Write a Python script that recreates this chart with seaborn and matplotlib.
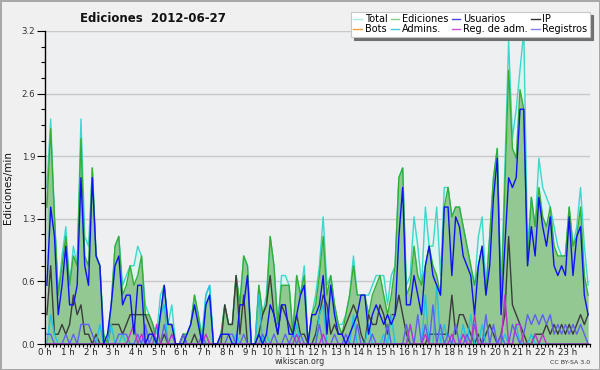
import numpy as np
import pandas as pd
import matplotlib
matplotlib.use("Agg")
import matplotlib.pyplot as plt
import seaborn as sns
from matplotlib.lines import Line2D
from matplotlib.ticker import FixedLocator, FixedFormatter, MultipleLocator

# edits per 10-minute slot (divided by 10 later -> edits/min)
total = [16, 23, 13, 5, 9, 12, 6, 10, 8, 23, 11, 10, 18, 9, 8, 1, 0, 4, 10, 11, 6, 7, 8, 8,
         10, 9, 4, 3, 2, 1, 5, 6, 2, 4, 0, 0, 1, 1, 2, 5, 3, 1, 5, 6, 0, 0, 1,
         4, 2, 2, 7, 4, 9, 8, 0, 0, 6, 3, 5, 11, 8, 2, 7, 7, 6, 1, 7, 5, 8, 0, 3,
         5, 8, 13, 6, 7, 4, 2, 2, 3, 5, 9, 5, 5, 5, 5, 6, 7, 7, 7, 4, 7, 8, 17, 18,
         6, 7, 13, 10, 6, 14, 10, 10, 14, 7, 16, 16, 13, 14, 14, 12, 10, 8, 6, 11, 13, 6, 11, 17,
         20, 5, 18, 31, 21, 24, 28, 32, 10, 15, 12, 19, 16, 15, 14, 12, 10, 9, 9, 14, 10, 12, 16, 10, 6]
ediciones = [14, 22, 13, 5, 8, 11, 6, 9, 8, 21, 9, 8, 18, 9, 8, 1, 0, 4, 10, 11, 5, 6, 8, 6,
             7, 9, 3, 3, 2, 0, 3, 6, 2, 2, 0, 0, 1, 1, 2, 5, 3, 0, 4, 5, 0, 0, 1,
             4, 2, 2, 7, 4, 9, 8, 0, 0, 6, 3, 4, 11, 8, 2, 6, 6, 6, 1, 7, 5, 7, 0, 3,
             4, 7, 11, 5, 7, 4, 2, 1, 3, 5, 8, 5, 5, 5, 3, 5, 6, 7, 5, 3, 5, 8, 17, 18,
             5, 6, 10, 7, 6, 8, 10, 8, 7, 5, 14, 16, 13, 14, 14, 12, 10, 8, 6, 8, 10, 5, 11, 17,
             20, 4, 16, 28, 20, 19, 26, 24, 8, 15, 12, 16, 13, 12, 14, 10, 9, 9, 9, 14, 10, 11, 14, 7, 5]
usuarios = [6, 14, 11, 3, 6, 10, 4, 4, 6, 17, 8, 6, 17, 9, 8, 0, 1, 4, 8, 9, 4, 5, 5, 1,
            6, 6, 0, 1, 1, 0, 3, 6, 2, 2, 0, 0, 0, 1, 2, 4, 2, 0, 4, 5, 0, 0, 1,
            1, 1, 0, 0, 4, 4, 7, 0, 0, 1, 0, 1, 4, 3, 1, 4, 4, 1, 1, 3, 5, 6, 0, 3,
            3, 4, 7, 1, 6, 3, 1, 1, 0, 1, 2, 3, 5, 5, 1, 3, 4, 3, 2, 3, 2, 3, 11, 16,
            4, 4, 7, 5, 3, 8, 10, 7, 6, 5, 14, 14, 7, 13, 12, 9, 8, 7, 3, 8, 10, 5, 8, 15,
            19, 3, 10, 17, 16, 17, 24, 24, 8, 12, 9, 15, 12, 10, 13, 8, 7, 8, 7, 13, 7, 11, 12, 5, 3]
ip = [3, 8, 1, 1, 2, 1, 2, 5, 3, 4, 1, 1, 0, 1, 0, 0, 0, 2, 2, 2, 1, 2, 3, 3,
      3, 3, 3, 2, 1, 0, 0, 1, 0, 0, 0, 0, 1, 0, 0, 1, 0, 0, 0, 0, 0, 0, 0,
      4, 2, 2, 7, 1, 5, 0, 0, 0, 1, 3, 4, 7, 3, 1, 4, 3, 2, 1, 3, 1, 1, 0, 0,
      1, 3, 5, 4, 1, 2, 1, 1, 2, 3, 4, 3, 1, 0, 3, 2, 2, 4, 3, 1, 3, 3, 5, 3,
      1, 0, 0, 0, 0, 0, 1, 1, 1, 1, 1, 1, 5, 1, 3, 3, 2, 1, 0, 1, 0, 1, 2, 1,
      0, 1, 3, 11, 4, 3, 2, 1, 0, 0, 1, 1, 1, 2, 1, 2, 1, 2, 1, 2, 1, 2, 3, 2, 3]
bots = [0, 0, 0, 0, 0, 0, 0, 0, 0, 0, 0, 0, 0, 0, 0, 0, 0, 0, 0, 0, 0, 0, 0, 0,
        0, 0, 0, 0, 0, 0, 0, 0, 0, 0, 0, 0, 0, 0, 0, 0, 0, 0, 0, 0, 0, 0, 0, 0,
        0, 0, 0, 0, 0, 0, 0, 0, 0, 0, 0, 0, 0, 0, 0, 0, 0, 0, 0, 0, 0, 0, 0, 0,
        0, 0, 0, 0, 0, 0, 0, 0, 0, 0, 0, 0, 0, 0, 0, 0, 0, 0, 0, 0, 0, 0, 0, 0,
        0, 0, 0, 0, 0, 0, 0, 0, 0, 0, 0, 0, 0, 0, 0, 0, 0, 0, 0, 0, 0, 0, 0, 0,
        0, 0, 0, 0, 0, 0, 0, 0, 0, 0, 0, 0, 0, 0, 0, 0, 0, 0, 0, 0, 0, 0, 0, 0]
admins = [0, 3, 1, 0, 0, 0, 0, 0, 0, 0, 0, 0, 0, 0, 2, 0, 0, 2, 0, 0, 1, 0, 0, 0,
          0, 0, 0, 0, 0, 0, 3, 4, 0, 0, 0, 0, 0, 0, 0, 0, 0, 0, 5, 6, 0, 0, 0, 0,
          0, 0, 1, 0, 0, 0, 0, 0, 5, 0, 1, 0, 0, 0, 0, 0, 0, 0, 2, 0, 0, 0, 0, 0,
          3, 4, 0, 0, 0, 0, 0, 0, 0, 3, 0, 0, 0, 2, 0, 0, 0, 1, 0, 3, 0, 0, 0, 0,
          2, 0, 0, 0, 5, 0, 0, 6, 0, 2, 0, 0, 0, 0, 2, 0, 3, 0, 0, 2, 0, 0, 0, 0,
          0, 1, 0, 0, 2, 0, 0, 0, 1, 0, 0, 0, 0, 0, 0, 0, 0, 0, 0, 0, 0, 0, 0, 0]
reg_adm = [0, 0, 0, 0, 0, 0, 0, 0, 0, 0, 0, 0, 0, 0, 0, 0, 0, 0, 0, 0, 0, 0, 1, 2,
           0, 1, 0, 0, 0, 2, 0, 0, 0, 1, 0, 0, 0, 0, 0, 0, 0, 0, 1, 0, 0, 0, 0, 0,
           0, 0, 0, 0, 0, 0, 0, 0, 0, 0, 0, 0, 0, 0, 0, 0, 0, 0, 1, 0, 0, 0, 0, 0,
           0, 1, 0, 0, 0, 0, 0, 0, 0, 0, 0, 0, 0, 0, 0, 0, 0, 0, 0, 0, 0, 0, 0, 0,
           2, 0, 0, 0, 1, 0, 0, 0, 0, 0, 0, 1, 0, 0, 1, 0, 0, 3, 0, 0, 0, 0, 0, 0,
           0, 5, 0, 0, 2, 2, 0, 0, 0, 1, 0, 1, 0, 0, 0, 0, 0, 0, 0, 0, 0, 0, 0, 0]
registros = [1, 1, 0, 0, 0, 1, 0, 1, 0, 2, 2, 2, 1, 0, 0, 0, 0, 0, 0, 1, 1, 1, 0, 0,
             1, 0, 2, 0, 1, 0, 0, 2, 0, 0, 0, 0, 1, 0, 0, 0, 0, 1, 0, 0, 0, 0, 0, 0,
             1, 1, 0, 0, 1, 0, 0, 0, 0, 1, 0, 0, 1, 0, 0, 1, 0, 1, 0, 1, 0, 0, 0, 0,
             2, 0, 0, 0, 1, 0, 0, 1, 0, 0, 2, 0, 0, 0, 1, 0, 0, 0, 2, 0, 0, 0, 0, 2,
             0, 0, 3, 0, 2, 0, 4, 0, 2, 0, 1, 0, 2, 0, 0, 1, 0, 2, 0, 0, 3, 0, 2, 0,
             1, 0, 0, 2, 1, 0, 1, 3, 2, 3, 2, 3, 2, 3, 1, 2, 1, 2, 1, 2, 1, 2, 1, 0]

hour_labels = [f"{h} h" for h in range(24)]
y_ticks = [0.0, 0.64, 1.28, 1.92, 2.56, 3.2]
y_labels = ["0.0", "0.6", "1.3", "1.9", "2.6", "3.2"]

names = ["Total", "Bots", "Ediciones", "Admins.", "Usuarios", "Reg. de adm.", "IP", "Registros"]
series = [total, bots, ediciones, admins, usuarios, reg_adm, ip, registros]
line_col = {"Total": "#3cd8cc", "Bots": "#f0a030", "Ediciones": "#36ae36", "Admins.": "#20c4e0",
            "Usuarios": "#1010f4", "Reg. de adm.": "#c030d0", "IP": "#3c3c3c", "Registros": "#6060f0"}
legend_col = {"Total": "#a8e8e0", "Bots": "#f0a040", "Ediciones": "#88cc88", "Admins.": "#40c8e0",
              "Usuarios": "#4848e0", "Reg. de adm.": "#d050e0", "IP": "#303030", "Registros": "#8080f0"}

hora = (np.arange(len(total)) + 0.5) / 6
df = pd.DataFrame({n: np.array(s) / 10 for n, s in zip(names, series)})
df["hora"] = hora
long_df = df.melt(id_vars="hora", var_name="serie", value_name="valor")

fig = plt.figure(figsize=(6, 3.7), dpi=100, facecolor="#f0f0f0",
                 edgecolor="#a8a8a8", linewidth=2)
ax = fig.add_axes([45 / 600, 26 / 370, 545 / 600, 313 / 370])
ax.set_facecolor("#eeeff1")

ax.fill_between(df["hora"], df["Total"], color="#dcf3ef", lw=0, zorder=1)
ax.fill_between(df["hora"], df["Ediciones"], color="#92c892", lw=0, zorder=1.5)

draw_order = ["Bots", "Total", "Ediciones", "IP", "Admins.", "Registros", "Reg. de adm.", "Usuarios"]
sns.lineplot(data=long_df, x="hora", y="valor", hue="serie", hue_order=draw_order,
             palette=line_col, estimator=None, linewidth=1.0, legend=False, ax=ax, zorder=3)

ax.set_xlim(0, 24)
ax.set_ylim(0, 3.2)
ax.xaxis.set_major_locator(FixedLocator(list(range(24))))
ax.xaxis.set_major_formatter(FixedFormatter(hour_labels))
ax.xaxis.set_minor_locator(MultipleLocator(1 / 6))
ax.yaxis.set_major_locator(FixedLocator(y_ticks))
ax.yaxis.set_major_formatter(FixedFormatter(y_labels))
ax.yaxis.set_minor_locator(MultipleLocator(0.16))
ax.tick_params(axis="x", which="both", direction="out", length=2.5, width=0.8, pad=0.5,
               labelsize=6.2, labelcolor="#222222")
ax.tick_params(axis="y", which="major", direction="out", length=6, width=0.8, pad=1,
               labelsize=6.2, labelcolor="#333333")
ax.tick_params(axis="y", which="minor", direction="out", length=3, width=0.8)
ax.grid(axis="y", which="major", color="#c8c8c8", lw=1)
ax.set_axisbelow(True)
for s in ["top", "right"]:
    ax.spines[s].set_visible(False)
for s in ["left", "bottom"]:
    ax.spines[s].set_linewidth(1)
    ax.spines[s].set_zorder(5)
ax.set_xlabel("")
ax.set_ylabel("Ediciones/min", fontsize=7.5, color="#111111")
ax.yaxis.set_label_coords(-0.058, 0.5)

fig.text(153 / 600, 1 - 18 / 370, "Ediciones  2012-06-27", ha="center", va="center",
         fontsize=8.5, fontweight="bold", color="#111111")
fig.text(0.5, 1 - 362 / 370, "wikiscan.org", ha="center", va="center", fontsize=5.8, color="#333333")
fig.text(590 / 600, 1 - 362 / 370, "CC BY-SA 3.0", ha="right", va="center", fontsize=4.5, color="#333333")

handles = [Line2D([], [], color=legend_col[n], lw=1) for n in names]
leg = fig.legend(handles, names, loc="upper right", bbox_to_anchor=(590 / 600, 1 - 12 / 370),
                 ncol=4, fontsize=7, frameon=True, fancybox=False, shadow={"color": "#707070", "alpha": 1},
                 handlelength=0.9, handletextpad=0.3, columnspacing=0.3, labelspacing=0.0,
                 borderpad=0.25, borderaxespad=0)
leg.get_frame().set_edgecolor("#c8c8c8")
leg.get_frame().set_linewidth(0.8)
leg.set_zorder(10)

fig.savefig("out.png", dpi=100, facecolor=fig.get_facecolor(), edgecolor=fig.get_edgecolor())
